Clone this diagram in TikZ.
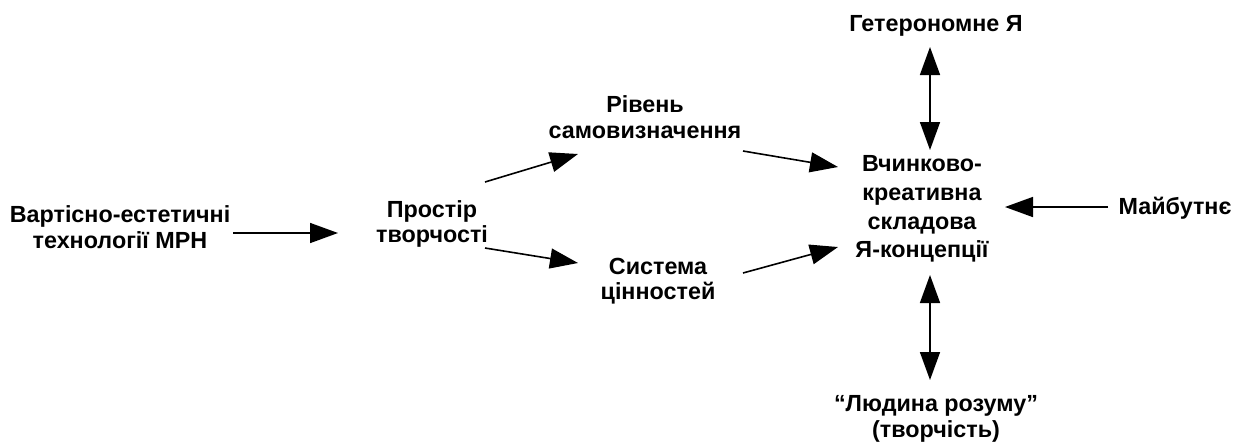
\documentclass[tikz,border=0pt]{standalone}
\usepackage{fontspec}
\setmainfont{Liberation Sans}
\usetikzlibrary{arrows.meta}

\begin{document}
\begin{tikzpicture}[x=0.75pt, y=-0.75pt,
        txt/.style={align=center, inner sep=0pt, font=\bfseries\fontsize{17.5}{19.2}\selectfont},
        arr/.style={line width=1.2pt, -{Triangle[length=21pt, width=15pt]}},
        darr/.style={line width=1.2pt, {Triangle[length=21pt, width=15pt]}-{Triangle[length=21pt, width=15pt]}}]
        \useasboundingbox (0,0) rectangle (1240,444);

        \node[txt] (vart) at (120,227) {Вартісно-естетичні\\технології МРН};
        \node[txt] (pros) at (432,224) {Простір\\творчості};
        \node[txt] (riv) at (645,117) {Рівень\\самовизначення};
        \node[txt] (sys) at (658,281) {Система\\цінностей};
        \node[txt, font=\bfseries\fontsize{17.5}{21.6}\selectfont] (vch) at (922,209) {Вчинково-\\креативна\\складова\\Я-концепції};
        \node[txt] (het) at (936,26) {Гетерономне Я};
        \node[txt] (mayb) at (1175,208) {Майбутнє};
        \node[txt] (lyud) at (936,419) {“Людина розуму”\\(творчість)};

        % Conexiones
        \draw[arr] ([shift={(113,6)}]vart.center) -- ([shift={(-94,9)}]pros.center);
        \draw[arr] ([shift={(53,-42)}]pros.center) -- ([shift={(-67,37)}]riv.center);
        \draw[arr] ([shift={(53,24)}]pros.center) -- ([shift={(-80,-18)}]sys.center);
        \draw[arr] ([shift={(98,34)}]riv.center) -- ([shift={(-84,-42)}]vch.center);
        \draw[arr] ([shift={(85,-8)}]sys.center) -- ([shift={(-84,38)}]vch.center);
        \draw[arr] ([shift={(-67,-1)}]mayb.center) -- ([shift={(83,-2)}]vch.center);
        \draw[darr] ([shift={(-6,21)}]het.center) -- ([shift={(8,-59)}]vch.center);
        \draw[darr] ([shift={(8,66)}]vch.center) -- ([shift={(-6,-39)}]lyud.center);
    \end{tikzpicture}
\end{document}
